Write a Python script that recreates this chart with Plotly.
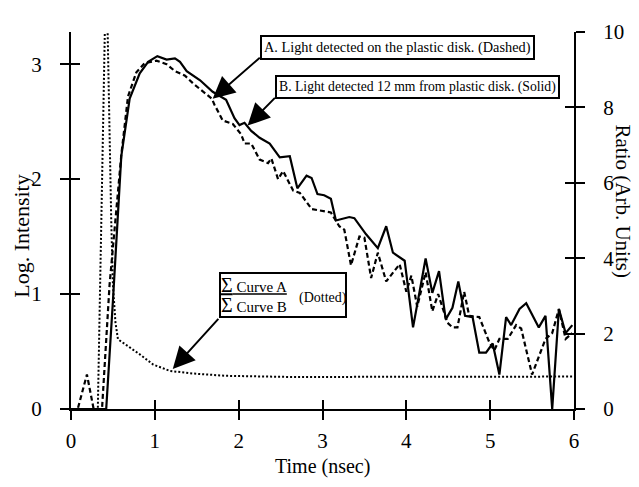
import plotly.graph_objects as go

# ---- data ----
t_A = [0, 0.08, 0.19, 0.27, 0.37, 0.46, 0.60, 0.68, 0.78, 0.88, 1.02, 1.14, 1.24, 1.36,
       1.46, 1.58, 1.68, 1.71, 1.81, 1.93, 2.03, 2.07, 2.15, 2.25, 2.35, 2.39, 2.47, 2.53,
       2.65, 2.73, 2.87, 3.10, 3.20, 3.26, 3.34, 3.44, 3.50, 3.58, 3.66, 3.76, 3.92, 4.00,
       4.06, 4.13, 4.23, 4.31, 4.38, 4.49, 4.55, 4.61, 4.69, 4.75, 4.87, 4.99, 5.05, 5.11,
       5.21, 5.31, 5.37, 5.50, 5.66, 5.74, 5.82, 5.90, 5.98]
curve_A = [0, 0, 0.30, 0, 0, 1.08, 2.21, 2.72, 2.93, 3.01, 3.03, 3.00, 2.94, 2.90,
           2.83, 2.76, 2.70, 2.65, 2.51, 2.48, 2.39, 2.31, 2.31, 2.17, 2.14, 2.18, 2.00, 2.07,
           1.90, 1.88, 1.74, 1.71, 1.59, 1.56, 1.25, 1.50, 1.49, 1.14, 1.36, 1.11, 1.26, 1.02,
           1.16, 0.89, 1.19, 0.85, 1.00, 0.75, 0.71, 0.71, 1.02, 0.81, 0.80, 0.58, 0.51, 0.61,
           0.61, 0.73, 0.70, 0.30, 0.61, 0.66, 0.87, 0.61, 0.66]

t_B = [0, 0.42, 0.50, 0.60, 0.70, 0.82, 0.92, 1.03, 1.14, 1.24, 1.30, 1.38, 1.54, 1.69,
       1.85, 1.95, 2.01, 2.07, 2.15, 2.25, 2.37, 2.49, 2.61, 2.70, 2.81, 2.87, 2.94, 3.02,
       3.10, 3.16, 3.32, 3.38, 3.52, 3.66, 3.76, 3.84, 3.98, 4.08, 4.23, 4.31, 4.39, 4.47,
       4.55, 4.62, 4.70, 4.79, 4.87, 4.95, 5.03, 5.11, 5.19, 5.25, 5.35, 5.43, 5.58, 5.66,
       5.74, 5.82, 5.90, 5.98]
curve_B = [0, 0, 0.94, 2.20, 2.70, 2.92, 3.02, 3.07, 3.04, 3.05, 3.02, 2.94, 2.86, 2.76,
           2.69, 2.53, 2.47, 2.49, 2.42, 2.36, 2.31, 2.19, 2.20, 1.92, 2.03, 2.01, 1.87, 1.86,
           1.83, 1.64, 1.67, 1.66, 1.52, 1.40, 1.59, 1.36, 1.29, 0.71, 1.31, 1.01, 1.20, 0.78,
           0.88, 1.11, 0.81, 0.80, 0.49, 0.49, 0.57, 0.30, 0.80, 0.73, 0.87, 0.92, 0.71, 0.81,
           0.0, 0.87, 0.66, 0.73]

t_ratio = [0, 0.32, 0.42, 0.46, 0.48, 0.50, 0.53, 0.56, 0.66, 0.82, 0.98, 1.18, 1.46,
           1.85, 2.60, 3.40, 6.00]
ratio = [0, 0, 12.0, 6.8, 5.0, 3.3, 2.3, 1.85, 1.70, 1.45, 1.18, 1.01, 0.94,
         0.88, 0.85, 0.85, 0.86]

x_ticks = [0, 1, 2, 3, 4, 5, 6]
y_left_ticks = [0, 1, 2, 3]
y_right_ticks = [0, 2, 4, 6, 8, 10]

FONT = "Liberation Serif"

fig = go.Figure()
fig.add_trace(go.Scatter(x=t_B, y=curve_B, mode="lines",
                         line=dict(color="black", width=2.2), xaxis="x", yaxis="y"))
fig.add_trace(go.Scatter(x=t_A, y=curve_A, mode="lines",
                         line=dict(color="black", width=2.2, dash="5px,3px"), xaxis="x", yaxis="y"))
fig.add_trace(go.Scatter(x=t_ratio, y=ratio, mode="lines",
                         line=dict(color="black", width=2, dash="2px,2px"), xaxis="x", yaxis="y2"))
# dummy traces so that the overlay (inside-tick) axes get drawn
fig.add_trace(go.Scatter(x=[None], y=[None], xaxis="x2", yaxis="y3", hoverinfo="skip"))
fig.add_trace(go.Scatter(x=[None], y=[None], xaxis="x2", yaxis="y4", hoverinfo="skip"))

tick_font = dict(family=FONT, size=21, color="black")
common = dict(showgrid=False, zeroline=False, linecolor="black", linewidth=2,
              tickcolor="black", tickwidth=2, ticklen=9)

# the page body has an 8px margin, so the figure is drawn 8px smaller
fig.update_layout(
    width=631, height=479,
    margin=dict(l=63, r=65, t=14, b=78),
    paper_bgcolor="white", plot_bgcolor="white",
    showlegend=False,
    font=dict(family=FONT, color="black"),
    xaxis=dict(range=[0, 6], tickvals=x_ticks, ticks="outside", showline=True,
               tickfont=tick_font, anchor="y", ticklabelstandoff=3, **common),
    xaxis2=dict(range=[0, 6], tickvals=x_ticks, ticks="inside", showline=False,
                showticklabels=False, overlaying="x", anchor="y", side="bottom", **common),
    yaxis=dict(range=[0, 3.28], tickvals=y_left_ticks, ticks="outside", showline=True,
               tickfont=tick_font, anchor="x", ticklabelstandoff=14, **common),
    yaxis2=dict(range=[0, 10], tickvals=y_right_ticks, ticks="outside", showline=True,
                tickfont=tick_font, overlaying="y", side="right", anchor="x",
                ticklabelstandoff=14, **common),
    yaxis3=dict(range=[0, 3.28], tickvals=y_left_ticks, ticks="inside", showline=False,
                showticklabels=False, overlaying="y", side="left", anchor="x", **common),
    yaxis4=dict(range=[0, 10], tickvals=y_right_ticks, ticks="inside", showline=False,
                showticklabels=False, overlaying="y", side="right", anchor="x", **common),
)

annotations = [
    # axis titles
    dict(text="Time (nsec)", xref="paper", yref="paper", x=0.5, y=-0.152,
         showarrow=False, font=dict(family=FONT, size=20), xanchor="center", yanchor="middle"),
    dict(text="Log. Intensity", xref="paper", yref="paper", x=0, xshift=-49, y=0.457,
         textangle=-90, showarrow=False, font=dict(family=FONT, size=22),
         xanchor="center", yanchor="middle"),
    dict(text="Ratio (Arb. Units)", xref="paper", yref="paper", x=1, xshift=49, y=0.553,
         textangle=90, showarrow=False, font=dict(family=FONT, size=21),
         xanchor="center", yanchor="middle"),
    # boxes
    dict(text="A. Light detected on the plastic disk. (Dashed)", xref="x", yref="y",
         x=2.25, y=3.254, xanchor="left", yanchor="top", showarrow=False,
         font=dict(family=FONT, size=14.3, color="black"),
         bordercolor="black", borderwidth=2, borderpad=2, bgcolor="white"),
    dict(text="B. Light detected 12 mm from plastic disk. (Solid)", xref="x", yref="y",
         x=2.43, y=2.907, xanchor="left", yanchor="top", showarrow=False,
         font=dict(family=FONT, size=13.7, color="black"),
         bordercolor="black", borderwidth=2, borderpad=2, bgcolor="white"),
    dict(text='<u><span style="font-size:20px">\u03a3</span> Curve A</u><br>'
              '<span style="font-size:20px">\u03a3</span> Curve B',
         xref="x", yref="y", x=1.76, y=1.195, xanchor="left", yanchor="top",
         showarrow=False, font=dict(family=FONT, size=15), align="left",
         width=124, height=42, valign="middle",
         bordercolor="black", borderwidth=2, borderpad=0, bgcolor="white"),
    dict(text="(Dotted)", xref="x", yref="y", x=3.0, y=0.97, xanchor="center",
         yanchor="middle", showarrow=False, font=dict(family=FONT, size=14, color="black")),
]
# arrows (tail -> tip)
arrows = [((2.27, 3.068), (1.69, 2.70)),
          ((2.45, 2.72), (2.107, 2.466)),
          ((1.774, 0.797), (1.214, 0.347))]
for (tx, ty), (hx, hy) in arrows:
    annotations.append(dict(text="", x=hx, y=hy, ax=tx, ay=ty, xref="x", yref="y",
                            axref="x", ayref="y", showarrow=True, arrowhead=2,
                            arrowsize=2.2, arrowwidth=2, arrowcolor="black"))
fig.update_layout(annotations=annotations)

fig.write_html("out.html")
